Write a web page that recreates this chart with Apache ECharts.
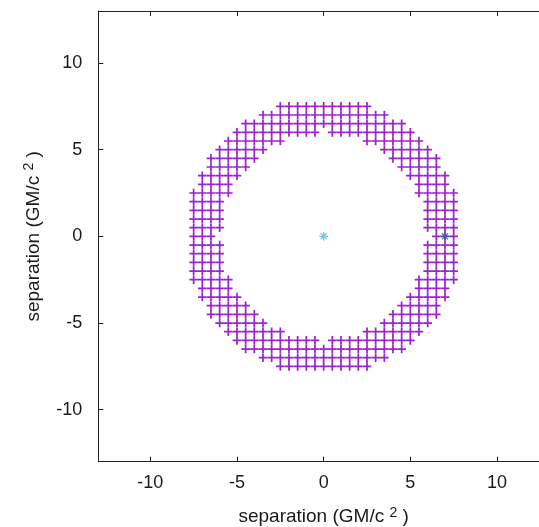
<!DOCTYPE html>
<html><head><meta charset="utf-8">
<script src="https://cdn.jsdelivr.net/npm/echarts@6/dist/echarts.min.js"></script>
<style>html,body{margin:0;padding:0;overflow:hidden;background:#fff}#c{width:539px;height:527px}</style>
</head><body><div id="c"></div>
<script>
// Tick labels
const tickValues = [-10, -5, 0, 5, 10];
const axisTitle = 'separation (GM/c {s|2} )';

// Row y-values of the grid of sampled separations
const rowY = [7.5, 7, 6.5, 6, 5.5, 5, 4.5, 4, 3.5, 3, 2.5, 2, 1.5, 1, 0.5, 0,
  -0.5, -1, -1.5, -2, -2.5, -3, -3.5, -4, -4.5, -5, -5.5, -6, -6.5, -7, -7.5];
// x-values present in each row
const rowX = [
  [-2.5,-2,-1.5,-1,-0.5,0,0.5,1,1.5,2,2.5],
  [-3.5,-3,-2.5,-2,-1.5,-1,-0.5,0,0.5,1,1.5,2,2.5,3,3.5],
  [-4.5,-4,-3.5,-3,-2.5,-2,-1.5,-1,-0.5,0,0.5,1,1.5,2,2.5,3,3.5,4,4.5],
  [-5,-4.5,-4,-3.5,-3,-2.5,-2,-1.5,-1,-0.5,0.5,1,1.5,2,2.5,3,3.5,4,4.5,5],
  [-5.5,-5,-4.5,-4,-3.5,-3,-2.5,2.5,3,3.5,4,4.5,5,5.5],
  [-6,-5.5,-5,-4.5,-4,-3.5,3.5,4,4.5,5,5.5,6],
  [-6.5,-6,-5.5,-5,-4.5,-4,4,4.5,5,5.5,6,6.5],
  [-6.5,-6,-5.5,-5,-4.5,4.5,5,5.5,6,6.5],
  [-7,-6.5,-6,-5.5,-5,5,5.5,6,6.5,7],
  [-7,-6.5,-6,-5.5,5.5,6,6.5,7],
  [-7.5,-7,-6.5,-6,-5.5,5.5,6,6.5,7,7.5],
  [-7.5,-7,-6.5,-6,6,6.5,7,7.5],
  [-7.5,-7,-6.5,-6,6,6.5,7,7.5],
  [-7.5,-7,-6.5,-6,6,6.5,7,7.5],
  [-7.5,-7,-6.5,-6,6,6.5,7,7.5],
  [-7.5,-7,-6.5,6.5,7,7.5],
  [-7.5,-7,-6.5,-6,6,6.5,7,7.5],
  [-7.5,-7,-6.5,-6,6,6.5,7,7.5],
  [-7.5,-7,-6.5,-6,6,6.5,7,7.5],
  [-7.5,-7,-6.5,-6,6,6.5,7,7.5],
  [-7.5,-7,-6.5,-6,-5.5,5.5,6,6.5,7,7.5],
  [-7,-6.5,-6,-5.5,5.5,6,6.5,7],
  [-7,-6.5,-6,-5.5,-5,5,5.5,6,6.5,7],
  [-6.5,-6,-5.5,-5,-4.5,4.5,5,5.5,6,6.5],
  [-6.5,-6,-5.5,-5,-4.5,-4,4,4.5,5,5.5,6,6.5],
  [-6,-5.5,-5,-4.5,-4,-3.5,3.5,4,4.5,5,5.5,6],
  [-5.5,-5,-4.5,-4,-3.5,-3,-2.5,2.5,3,3.5,4,4.5,5,5.5],
  [-5,-4.5,-4,-3.5,-3,-2.5,-2,-1.5,-1,-0.5,0.5,1,1.5,2,2.5,3,3.5,4,4.5,5],
  [-4.5,-4,-3.5,-3,-2.5,-2,-1.5,-1,-0.5,0,0.5,1,1.5,2,2.5,3,3.5,4,4.5],
  [-3.5,-3,-2.5,-2,-1.5,-1,-0.5,0,0.5,1,1.5,2,2.5,3,3.5],
  [-2.5,-2,-1.5,-1,-0.5,0,0.5,1,1.5,2,2.5]
];
// The two bodies
const bodyA = [[0, 0]];
const bodyB = [[7, 0]];

const gridPts = [];
rowY.forEach((y, k) => rowX[k].forEach(x => gridPts.push([x, y])));

const FONT = 'Liberation Sans, Arial, sans-serif';
const TXT = '#1a1a1a';
const nameStyle = {
  fontSize: 19, fontFamily: FONT, color: TXT, lineHeight: 22,
  rich: { s: { fontSize: 14, fontFamily: FONT, color: TXT, verticalAlign: 'top', lineHeight: 13 } }
};
function axisBase(pos, isX, main) {
  return {
    type: 'value', min: -13, max: 13, position: pos,
    axisLine: { show: true, onZero: false, lineStyle: { color: '#222', width: 1 } },
    axisTick: { show: true, inside: true, length: 5, customValues: tickValues, lineStyle: { color: '#222', width: 1 } },
    axisLabel: main ? { show: true, customValues: tickValues, fontSize: 18, fontFamily: FONT, color: TXT, margin: isX ? 12 : 16 } : { show: false },
    splitLine: { show: false },
    name: main ? axisTitle : '',
    nameLocation: 'middle',
    nameGap: isX ? 44 : 54,
    nameTextStyle: nameStyle
  };
}
const asterisk = 'path://M5,0V10M0,5H10M1.6,1.6L8.4,8.4M8.4,1.6L1.6,8.4';
const chart = echarts.init(document.getElementById('c'), null, { renderer: 'canvas' });
chart.setOption({
  animation: false,
  backgroundColor: '#fff',
  grid: { left: 98.3, top: 11, width: 450.7, height: 450.7, containLabel: false, outerBoundsMode: 'none' },
  xAxis: [axisBase('bottom', true, true), axisBase('top', true, false)],
  yAxis: [axisBase('left', false, true), axisBase('right', false, false)],
  series: [
    { type: 'scatter', data: gridPts, symbol: 'path://M4,0H6V4H10V6H6V10H4V6H0V4H4Z', symbolSize: 8.6,
      itemStyle: { color: '#9a22d2', opacity: 1 }, silent: true, z: 2 },
    { type: 'scatter', data: bodyA, symbol: asterisk, symbolSize: 9,
      itemStyle: { color: 'none', borderColor: '#56b4e9', borderWidth: 1.3 }, silent: true, z: 3 },
    { type: 'scatter', data: bodyB, symbol: asterisk, symbolSize: 9,
      itemStyle: { color: 'none', borderColor: '#2f5f8f', borderWidth: 1.3 }, silent: true, z: 4 }
  ]
});
</script></body></html>
